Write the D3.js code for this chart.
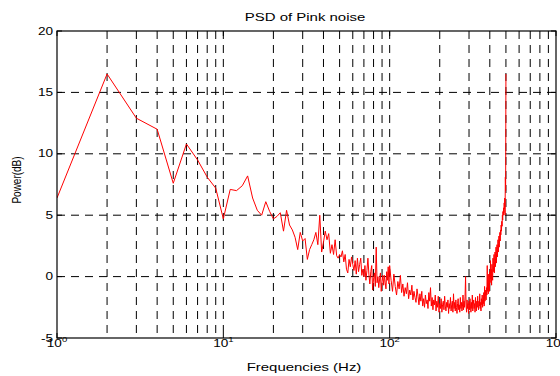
<!DOCTYPE html>
<html>
<head>
<meta charset="utf-8">
<script src="https://cdn.jsdelivr.net/npm/d3@7"></script>
<style>
body { margin: 0; background: #fff; }
text { font-family: "Liberation Sans", Arial, sans-serif; fill: #000; }
</style>
</head>
<body>
<div id="chart"></div>
<script>
// power (dB) at 1..100 Hz, one value per Hz
var powerLow = [
    6.4, 16.5, 12.9, 12.0, 7.6, 10.8, 9.5, 8.1, 7.2, 4.7,
    7.1, 7.0, 7.4, 8.2, 6.4, 5.4, 5.0, 6.1, 5.3, 4.7,
    4.9, 5.2, 3.7, 5.4, 4.2, 3.8, 3.2, 2.2, 3.6, 2.9,
    3.1, 1.4, 2.2, 2.6, 3.0, 3.6, 2.6, 5.0, 2.0, 2.8,
    3.7, 3.0, 3.5, 1.9, 2.6, 1.8, 3.0, 1.7, 1.5, 1.8,
    1.6, 2.1, 1.2, 1.8, 0.6, 0.3, 1.4, 0.8, 1.6, 1.0,
    0.5, 1.3, 0.2, 1.5, 0.4, 1.0, 1.5, 0.1, 0.6, 0.0,
    0.9, -0.3, 0.5, 1.5, 0.2, -0.6, 0.4, 0.9, -1.1, -0.2,
    0.3, -0.8, 2.4, -0.5, 0.0, -0.9, -0.2, 0.3, -1.2, -0.4,
    0.1, -0.7, 0.1, -0.5, -1.0, 0.4, -0.3, 0.8, -0.6, 0.9
];

// power (dB) at 102..500 Hz, every 2 Hz
var powerHigh = [
    -0.3, -1.2, 0.2, -0.8, -1.5, -0.4, -1.0, 0.1, -1.3, -0.6,
    -1.6, -0.9, -1.4, -0.5, -1.8, -1.1, -1.5, -0.7, -1.9, -1.2,
    -1.7, -2.1, -1.0, -1.6, -2.3, -1.4, -2.0, -1.2, -2.4, -1.8,
    -2.5, -1.5, -2.2, -1.9, -2.6, -1.3, -2.0, -0.9, -2.4, -1.7,
    -2.7, -1.9, -2.3, -1.5, -2.8, -2.0, -2.5, -1.6, -2.9, -2.2,
    -2.6, -1.8, -2.9, -2.3, -2.0, -2.7, -1.6, -2.4, -2.8, -2.1,
    -2.5, -1.9, -3.0, -2.2, -2.6, -1.7, -2.8, -2.3, -2.0, -2.9,
    -1.4, -2.6, -2.1, -2.8, -1.9, -2.5, -3.0, -2.2, -1.8, -2.7,
    -2.3, -2.9, -1.7, -2.6, -2.1, -2.8, -2.4, -1.5, -2.7, -2.0,
    -2.5, -1.6, 0.0, -2.4, -2.9, -1.9, -2.6, -2.2, -3.0, -2.0,
    -2.7, -1.8, -2.4, -2.9, -2.1, -2.6, -1.5, -2.8, -2.3, -1.9,
    -2.6, -2.2, -2.9, -1.7, -2.4, -2.8, -2.0, -2.5, -1.6, -2.3,
    -2.7, -2.0, -2.4, -1.4, -2.6, -2.1, -2.8, -1.8, -2.3, -1.5,
    -2.5, -1.9, -2.2, -1.3, -2.4, -0.8, -2.0, -1.6, -1.1, -1.9,
    -0.9, -1.5, 0.9, -1.2, -0.6, -1.4, 0.2, -0.8, -1.2, 0.4,
    -0.5, 1.3, -0.2, 0.6, -0.7, 1.0, 0.1, -0.3, 1.5, 0.4,
    0.9, 1.8, 0.3, 1.2, 2.0, 0.8, 1.5, 2.4, 1.1, 1.9,
    2.6, 1.6, 2.2, 3.0, 2.0, 2.7, 3.3, 2.4, 3.1, 3.6,
    2.9, 3.8, 3.4, 4.2, 3.7, 4.5, 4.1, 5.0, 4.6, 5.3,
    5.0, 5.6, 5.2, 6.0, 5.5, 6.4, 5.0, 8.1, 7.0, 16.5
];

// tick labels
var yTicks = [-5, 0, 5, 10, 15, 20];
var xExponents = [0, 1, 2, 3];

var titleText = 'PSD of Pink noise';
var xLabelText = 'Frequencies (Hz)';
var yLabelText = 'Power(dB)';

// frequency grid of the samples
var freqs = d3.range(1, 101).concat(d3.range(102, 501, 2));
var powers = powerLow.concat(powerHigh);
var psd = freqs.map(function (f, i) { return { f: f, p: powers[i] }; });

// margins
var margin = { top: 31, right: 4, bottom: 38, left: 57 };
var svgWidth = 560;
var svgHeight = 376;
var chartWidth = svgWidth - margin.left - margin.right;
var chartHeight = svgHeight - margin.top - margin.bottom;

// the original picture is stretched sideways
var stretch = 1.36;

var svg = d3.select('#chart').append('svg')
    .attr('width', svgWidth)
    .attr('height', svgHeight);

var chartGroup = svg.append('g')
    .attr('transform', `translate(${margin.left}, ${margin.top})`);

var xscale = d3.scaleLog()
    .domain([1, 1000])
    .range([0, chartWidth]);

var yscale = d3.scaleLinear()
    .domain([-5, 20])
    .range([chartHeight, 0]);

svg.append('clipPath')
    .attr('id', 'plotclip')
    .append('rect')
    .attr('width', chartWidth)
    .attr('height', chartHeight);

// vertical grid on every decade subdivision
var xGrid = [];
[1, 10, 100].forEach(function (dec) {
    d3.range(2, 11).forEach(function (k) { xGrid.push(k * dec); });
});
xGrid = xGrid.filter(function (v) { return v < 1000; });

chartGroup.selectAll('.xgrid')
    .data(xGrid)
    .enter()
    .append('line')
    .attr('class', 'xgrid')
    .attr('x1', d => xscale(d))
    .attr('x2', d => xscale(d))
    .attr('y1', 0)
    .attr('y2', chartHeight)
    .attr('stroke', '#000')
    .attr('stroke-width', 1)
    .attr('stroke-dasharray', '8,6');

// horizontal grid
chartGroup.selectAll('.ygrid')
    .data(yTicks.filter(v => v > -5 && v < 20))
    .enter()
    .append('line')
    .attr('class', 'ygrid')
    .attr('x1', 0)
    .attr('x2', chartWidth)
    .attr('y1', d => yscale(d))
    .attr('y2', d => yscale(d))
    .attr('stroke', '#000')
    .attr('stroke-width', 1)
    .attr('stroke-dasharray', '8,6');

// psd line
var line = d3.line()
    .x(d => xscale(d.f))
    .y(d => yscale(d.p));

chartGroup.append('path')
    .datum(psd)
    .attr('d', line)
    .attr('fill', 'none')
    .attr('stroke', '#ff0000')
    .attr('stroke-width', 1)
    .attr('clip-path', 'url(#plotclip)');

// box
chartGroup.append('rect')
    .attr('width', chartWidth)
    .attr('height', chartHeight)
    .attr('fill', 'none')
    .attr('stroke', '#000')
    .attr('stroke-width', 1.2);

// inward ticks
yTicks.forEach(function (v) {
    [[0, 5], [chartWidth - 5, chartWidth]].forEach(function (xs) {
        chartGroup.append('line')
            .attr('x1', xs[0]).attr('x2', xs[1])
            .attr('y1', yscale(v)).attr('y2', yscale(v))
            .attr('stroke', '#000');
    });
});
xExponents.forEach(function (e) {
    var x = xscale(Math.pow(10, e));
    [[chartHeight - 5, chartHeight], [0, 5]].forEach(function (ys) {
        chartGroup.append('line')
            .attr('x1', x).attr('x2', x)
            .attr('y1', ys[0]).attr('y2', ys[1])
            .attr('stroke', '#000');
    });
});

// y tick labels
svg.selectAll('.ylab')
    .data(yTicks)
    .enter()
    .append('text')
    .attr('class', 'ylab')
    .attr('transform', d => `translate(53, ${margin.top + yscale(d) + 3.6}) scale(${stretch},1)`)
    .style('font-size', '10px')
    .style('text-anchor', 'end')
    .text(d => d);

// x tick labels, 10 with a superscript power
var xlab = svg.selectAll('.xlab')
    .data(xExponents)
    .enter()
    .append('text')
    .attr('class', 'xlab')
    .attr('transform', d => `translate(${margin.left + xscale(Math.pow(10, d))}, 347.3) scale(${stretch},1)`)
    .style('font-size', '10px')
    .style('text-anchor', 'middle');

xlab.append('tspan').text('10');
xlab.append('tspan')
    .attr('dy', -5)
    .style('font-size', '7px')
    .text(d => d);

// title and axis labels
svg.append('text')
    .attr('transform', `translate(305, 20.6) scale(${stretch},1)`)
    .style('font-size', '11px')
    .style('text-anchor', 'middle')
    .text(titleText);

svg.append('text')
    .attr('transform', `translate(304, 371) scale(${stretch},1)`)
    .style('font-size', '11px')
    .style('text-anchor', 'middle')
    .text(xLabelText);

svg.append('text')
    .attr('transform', `translate(21, 180) scale(${stretch},1) rotate(-90)`)
    .style('font-size', '10px')
    .style('text-anchor', 'middle')
    .text(yLabelText);
</script>
</body>
</html>
